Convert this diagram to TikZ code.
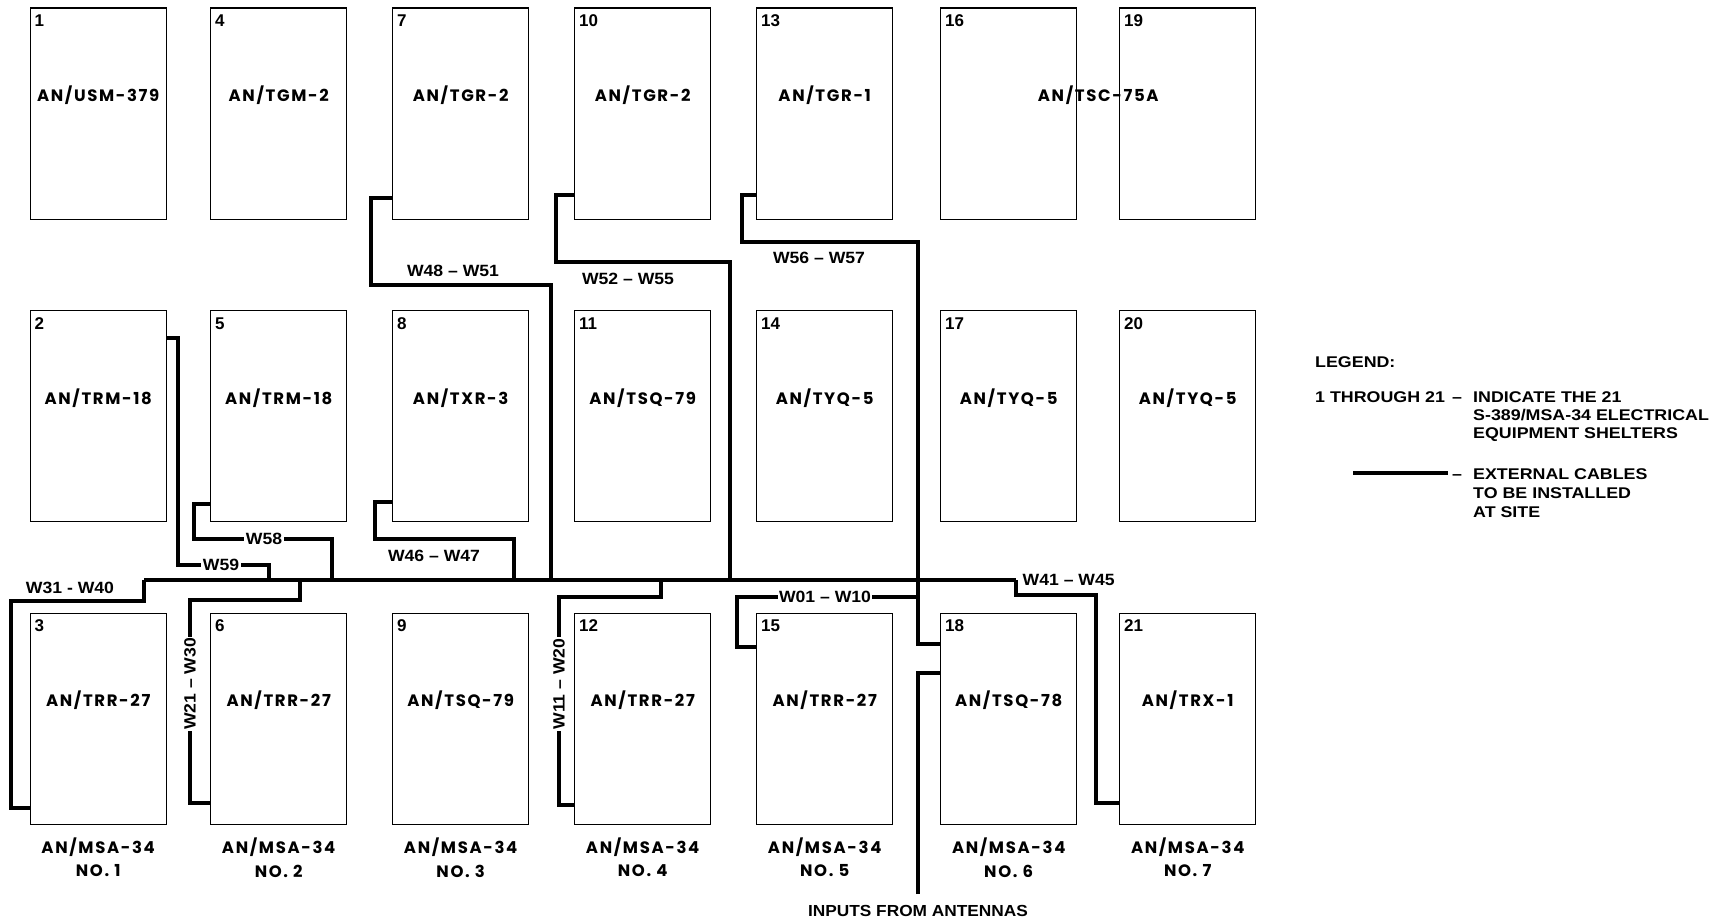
\documentclass[tikz,border=0pt]{standalone}
\usepackage{fontspec}
\setmainfont{Liberation Sans}
\newfontfamily\labfont{Liberation Sans}[FakeStretch=1.08]
\newfontfamily\legfont{Liberation Sans}[FakeStretch=1.15]
\newfontfamily\geofont{Poppins}[LetterSpace=10]
\usetikzlibrary{calc}
\tikzset{
  shelterbox/.style={draw, line width=1.4pt, minimum width=136pt, minimum height=211pt, inner sep=0pt, anchor=north west},
  numlabel/.style={anchor=west, inner sep=0pt, font=\bfseries\fontsize{17}{17}\selectfont},
  namelabel/.style={inner sep=0pt, font=\geofont\bfseries\fontsize{16.5}{16.5}\selectfont},
  cable/.style={line width=3.6pt},
  busline/.style={line width=3.2pt},
  wlabel/.style={inner sep=1.5pt, font=\labfont\bfseries\fontsize{16.3}{16.3}\selectfont},
  masked/.style={wlabel, fill=white},
  legtext/.style={anchor=base west, inner sep=0pt, font=\legfont\bfseries\fontsize{15.5}{15.5}\selectfont},
  anttext/.style={inner sep=0pt, font=\labfont\bfseries\fontsize{16}{16}\selectfont},
}
\newcommand\shelter[4]{%
  \node[shelterbox] (b#1) at (#2,#3) {};
  \node[numlabel] (n#1) at ($(b#1.north west)+(5,13.5)$) {#1};
  \node[namelabel] (t#1) at ($(b#1.north)+(0,88)$) {#4};}
\newcommand\msalabel[2]{%
  \node[namelabel] (m#1) at (#2.south |- 0,847) {AN/MSA-34};
  \node[namelabel] (k#1) at (#2.south |- 0,871) {NO. #1};}
\begin{document}
\begin{tikzpicture}[x=1pt,y=-1pt]
\useasboundingbox (0,0) rectangle (1726,923);
% shelters
\shelter{1}{29.5}{7.5}{AN/USM-379}
\shelter{2}{29.5}{310}{AN/TRM-18}
\shelter{3}{29.5}{612.5}{AN/TRR-27}
\shelter{4}{210}{7.5}{AN/TGM-2}
\shelter{5}{210}{310}{AN/TRM-18}
\shelter{6}{210}{612.5}{AN/TRR-27}
\shelter{7}{392}{7.5}{AN/TGR-2}
\shelter{8}{392}{310}{AN/TXR-3}
\shelter{9}{392}{612.5}{AN/TSQ-79}
\shelter{10}{574}{7.5}{AN/TGR-2}
\shelter{11}{574}{310}{AN/TSQ-79}
\shelter{12}{574}{612.5}{AN/TRR-27}
\shelter{13}{756}{7.5}{AN/TGR-1}
\shelter{14}{756}{310}{AN/TYQ-5}
\shelter{15}{756}{612.5}{AN/TRR-27}
\shelter{16}{940}{7.5}{}
\shelter{17}{940}{310}{AN/TYQ-5}
\shelter{18}{940}{612.5}{AN/TSQ-78}
\shelter{19}{1119}{7.5}{}
\shelter{20}{1119}{310}{AN/TYQ-5}
\shelter{21}{1119}{612.5}{AN/TRX-1}
\node[namelabel] (t1619) at ($(b16.north east)!0.5!(b19.north west)+(0,88)$) {AN/TSC-75A};
% station labels
\msalabel{1}{b3}
\msalabel{2}{b6}
\msalabel{3}{b9}
\msalabel{4}{b12}
\msalabel{5}{b15}
\msalabel{6}{b18}
\msalabel{7}{b21}
% junction coordinates
\coordinate (busL) at (144,580);
\coordinate (busR) at (1016,580);
\coordinate (ant) at (918,894);
% main bus
\draw[busline] (busL) -- (busR);
% W31-W40
\draw[cable] (busL) -- (144,601) -- (11,601) -- (11,808) -- (b3.west |- 0,808);
\node[wlabel] (w31) at (70,588) {W31 - W40};
% W41-W45
\draw[cable] (busR) -- (1016,595) -- (1096,595) -- (1096,803) -- (b21.west |- 0,803);
\node[wlabel, anchor=west] (w41) at (1021,580) {W41 – W45};
% W21-W30
\draw[cable] (300,580) -- (300,600) -- (190,600) -- (190,803) -- (b6.west |- 0,803);
\node[masked, rotate=90] (w21) at (190,684) {W21 – W30};
% W11-W20
\draw[cable] (661,580) -- (661,597) -- (559,597) -- (559,805) -- (b12.west |- 0,805);
\node[masked, rotate=90] (w11) at (559,684) {W11 – W20};
% W59
\draw[cable] (b2.east |- 0,338) -- (178,338) -- (178,565) -- (269,565) -- (269,580);
\node[masked] (w59) at (221,565) {W59};
% W58
\draw[cable] (b5.west |- 0,504) -- (194,504) -- (194,539) -- (332,539) -- (332,580);
\node[masked] (w58) at (264,539) {W58};
% W46-W47
\draw[cable] (b8.west |- 0,502) -- (375,502) -- (375,539) -- (514,539) -- (514,580);
\node[wlabel] (w46) at (434,556) {W46 – W47};
% W48-W51
\draw[cable] (b7.west |- 0,198) -- (371,198) -- (371,285) -- (551,285) -- (551,580);
\node[wlabel] (w48) at (453,271) {W48 – W51};
% W52-W55
\draw[cable] (b10.west |- 0,195) -- (556,195) -- (556,262) -- (730,262) -- (730,580);
\node[wlabel] (w52) at (628,279) {W52 – W55};
% W56-W57 trunk
\draw[cable] (b13.west |- 0,195) -- (742,195) -- (742,242) -- (918,242) -- (918,644) -- (b18.west |- 0,644);
\node[wlabel] (w56) at (819,258) {W56 – W57};
% W01-W10
\draw[cable] (918,597) -- (737,597) -- (737,647) -- (b15.west |- 0,647);
\node[masked] (w01) at (825,597) {W01 – W10};
% antenna input
\draw[cable] (ant) -- (918,673) -- (b18.west |- 0,673);
\node[anttext] (antlabel) at (918,911) {INPUTS FROM ANTENNAS};
% legend (baselines)
\node[legtext] (lg0) at (1315,367) {LEGEND:};
\node[legtext] (lg1) at (1315,402) {1 THROUGH 21};
\node[legtext] (lgd1) at (1452,402) {–};
\node[legtext] (lg2) at (1473,402) {INDICATE THE 21};
\node[legtext] (lg3) at (1473,420) {S-389/MSA-34 ELECTRICAL};
\node[legtext] (lg4) at (1473,438) {EQUIPMENT SHELTERS};
\coordinate (lgA) at (1353,473);
\coordinate (lgB) at (1448,473);
\draw[cable] (lgA) -- (lgB);
\node[legtext] (lgd2) at (1452,479) {–};
\node[legtext] (lg5) at (1473,479) {EXTERNAL CABLES};
\node[legtext] (lg6) at (1473,498) {TO BE INSTALLED};
\node[legtext] (lg7) at (1473,517) {AT SITE};
\end{tikzpicture}
\end{document}
